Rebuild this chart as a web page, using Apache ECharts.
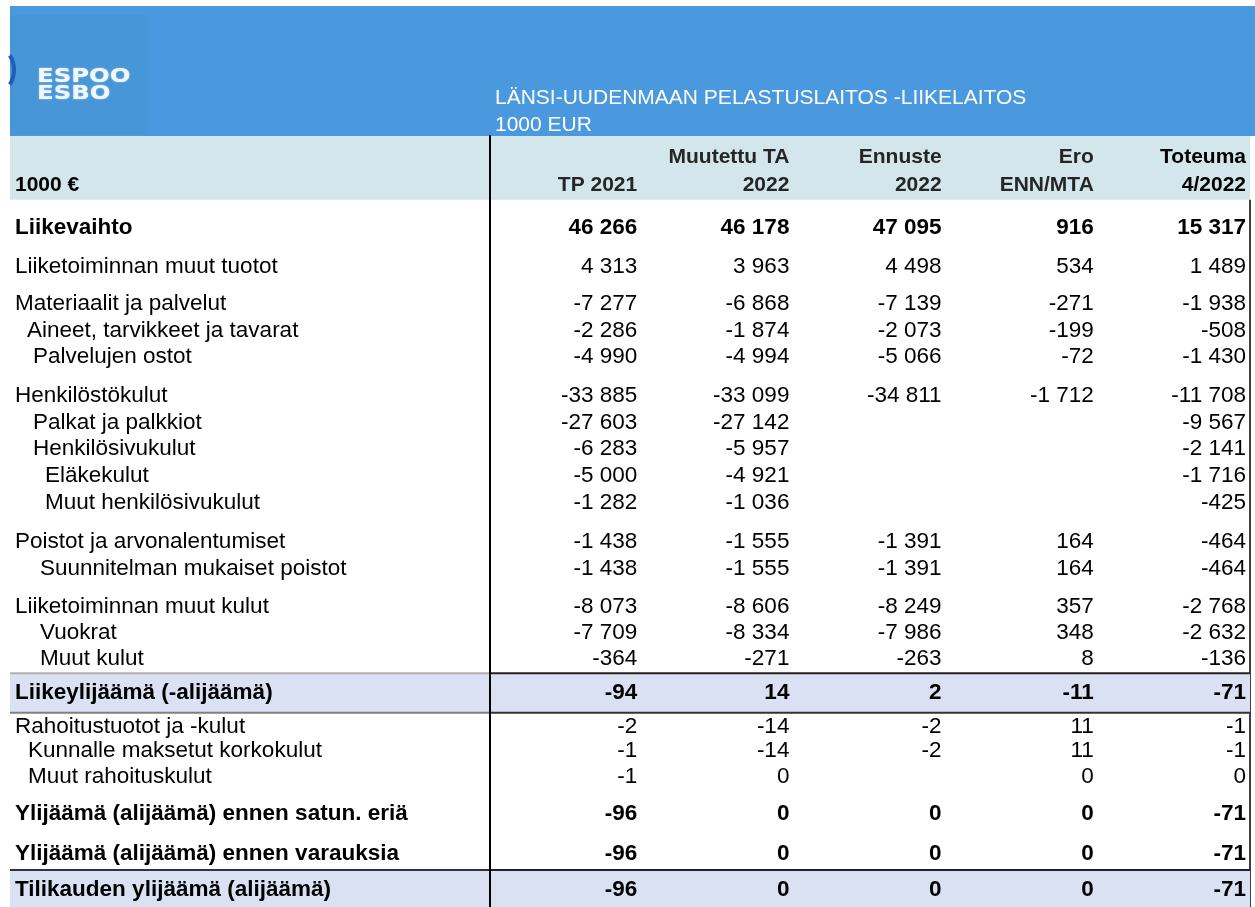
<!DOCTYPE html>
<html>
<head>
<meta charset="utf-8">
<title>Länsi-Uudenmaan pelastuslaitos -liikelaitos</title>
<script src="https://cdn.jsdelivr.net/npm/echarts@6/dist/echarts.min.js"></script>
<style>
html, body { margin: 0; padding: 0; background: #fff; }
#chart { width: 1255px; height: 907px; }
</style>
</head>
<body>
<div id="chart"></div>
<script>
// rivit
const rowLabels = [
  'Liikevaihto',
  'Liiketoiminnan muut tuotot',
  'Materiaalit ja palvelut',
  'Aineet, tarvikkeet ja tavarat',
  'Palvelujen ostot',
  'Henkilöstökulut',
  'Palkat ja palkkiot',
  'Henkilösivukulut',
  'Eläkekulut',
  'Muut henkilösivukulut',
  'Poistot ja arvonalentumiset',
  'Suunnitelman mukaiset poistot',
  'Liiketoiminnan muut kulut',
  'Vuokrat',
  'Muut kulut',
  'Liikeylijäämä (-alijäämä)',
  'Rahoitustuotot ja -kulut',
  'Kunnalle maksetut korkokulut',
  'Muut rahoituskulut',
  'Ylijäämä (alijäämä) ennen satun. eriä',
  'Ylijäämä (alijäämä) ennen varauksia',
  'Tilikauden ylijäämä (alijäämä)'
]

// sarakkeet
const tp2021 = [46266, 4313, -7277, -2286, -4990, -33885, -27603, -6283, -5000, -1282, -1438, -1438, -8073, -7709, -364, -94, -2, -1, -1, -96, -96, -96]
const mta2022 = [46178, 3963, -6868, -1874, -4994, -33099, -27142, -5957, -4921, -1036, -1555, -1555, -8606, -8334, -271, 14, -14, -14, 0, 0, 0, 0]
const enn2022 = [47095, 4498, -7139, -2073, -5066, -34811, null, null, null, null, -1391, -1391, -8249, -7986, -263, 2, -2, -2, null, 0, 0, 0]
const eroEnnMta = [916, 534, -271, -199, -72, -1712, null, null, null, null, 164, 164, 357, 348, 8, -11, 11, 11, 0, 0, 0, 0]
const tot2022 = [15317, 1489, -1938, -508, -1430, -11708, -9567, -2141, -1716, -425, -464, -464, -2768, -2632, -136, -71, -1, -1, 0, -71, -71, -71]

const colHeadTop = ['', 'Muutettu TA', 'Ennuste', 'Ero', 'Toteuma']
const colHeadBottom = ['TP 2021', '2022', '2022', 'ENN/MTA', '4/2022']
const columns = [tp2021, mta2022, enn2022, eroEnnMta, tot2022]

// asettelu (rivien välit riviyksiköinä, sisennys px)
const headHeight = 2.4
const rowStep = [1.05, 1.46, 1.4, 1, 1, 1.47, 1, 1, 1, 1, 1.47, 1.02, 1.43, 1, 0.96, 1.29, 1.26, 0.92, 0.97, 1.4, 1.5, 1.35]
const rowIndent = [0, 0, 0, 12, 18, 0, 18, 18, 30, 30, 0, 25, 0, 25, 25, 0, 0, 13, 13, 0, 0, 0]
const boldRows = [0, 15, 19, 20, 21]
const bandRows = [15, 21]

let acc = headHeight
const rowPos = rowStep.map(s => (acc += s))

const FONT = '"Liberation Sans", Arial, sans-serif'

function fmt(n) {
  if (n === null || n === undefined) return ''
  const s = Math.abs(n).toString().replace(/\B(?=(\d{3})+(?!\d))/g, ' ')
  return (n < 0 ? '-' : '') + s
}

const myChart = echarts.init(document.getElementById('chart'))

const option = {
  backgroundColor: '#ffffff',
  animation: false,
  title: {
    text: 'LÄNSI-UUDENMAAN PELASTUSLAITOS -LIIKELAITOS',
    subtext: '1000 EUR',
    left: 495,
    top: 88,
    padding: 0,
    itemGap: 6,
    textStyle: { color: '#ffffff', fontWeight: 'normal', fontSize: 21, fontFamily: FONT },
    subtextStyle: { color: '#ffffff', fontSize: 21, fontFamily: FONT }
  },
  graphic: [
    { type: 'rect', z: -1, shape: { x: 10, y: 6, width: 1245, height: 130 }, style: { fill: '#4a98de' } },
    { type: 'rect', z: -1, shape: { x: 10, y: 15, width: 138, height: 120 }, style: { fill: '#4796d8' } },
    { type: 'arc', z: 0, shape: { cx: -14, cy: 70, r: 28, startAngle: -0.55, endAngle: 0.55 }, style: { stroke: '#1f5ebd', lineWidth: 4, fill: null } },
    {
      type: 'text', z: 0, x: 37, y: 68, scaleX: 1.22,
      style: {
        text: 'ESPOO\nESBO', fill: '#f2f7fc', fontSize: 20, fontWeight: 'bold',
        fontFamily: '"DejaVu Sans", sans-serif', lineHeight: 17,
        textShadowColor: 'rgba(255,255,255,0.6)', textShadowBlur: 2
      }
    }
  ],
  grid: { left: 485, right: 9, top: 136, bottom: 0 },
  xAxis: { type: 'value', min: 0, max: 5, show: false },
  yAxis: {
    type: 'value',
    inverse: true,
    min: 0,
    max: 29,
    offset: -5,
    z: 10,
    axisLine: { show: true, lineStyle: { color: '#000', width: 2 } },
    axisTick: { show: false },
    axisLabel: { show: false },
    splitLine: { show: false }
  },
  series: [
    {
      // otsikkorivi
      type: 'custom',
      z: 1,
      clip: false,
      data: [0],
      renderItem: (params, api) => {
        const p0 = api.coord([0, 0])
        const p5 = api.coord([5, 0])
        const yEnd = api.coord([0, headHeight])[1]
        const yBottom = api.coord([0, 29])[1]
        const y1 = api.coord([0, 0.79])[1]
        const y2 = api.coord([0, 1.84])[1]
        const children = [
          { type: 'rect', shape: { x: p0[0] - 475, y: p0[1], width: p5[0] + 4 - (p0[0] - 475), height: yEnd - p0[1] }, style: { fill: '#d2e6ec' } },
          { type: 'line', shape: { x1: p5[0] + 4, y1: yEnd, x2: p5[0] + 4, y2: yBottom }, style: { stroke: '#000', lineWidth: 1.5 } },
          { type: 'text', style: { text: '1000 €', x: p0[0] - 470, y: y2, align: 'left', verticalAlign: 'middle', fontSize: 21, fontWeight: 'bold', fontFamily: FONT, fill: '#000' } }
        ]
        for (let c = 0; c < 5; c++) {
          const x = api.coord([c + 1, 0])[0]
          const col = c === 4 ? '#000' : '#262626'
          children.push({ type: 'text', style: { text: colHeadTop[c], x: x, y: y1, align: 'right', verticalAlign: 'middle', fontSize: 21, fontWeight: 'bold', fontFamily: FONT, fill: col } })
          children.push({ type: 'text', style: { text: colHeadBottom[c], x: x, y: y2, align: 'right', verticalAlign: 'middle', fontSize: 21, fontWeight: 'bold', fontFamily: FONT, fill: col } })
        }
        return { type: 'group', children }
      }
    },
    {
      // tulosrivit
      type: 'custom',
      z: 1,
      clip: false,
      data: rowLabels.map((_, i) => [0, rowPos[i]]),
      renderItem: (params, api) => {
        const i = params.dataIndex
        const pos = rowPos[i]
        const p0 = api.coord([0, pos])
        const p5 = api.coord([5, pos])
        const bold = boldRows.includes(i)
        const left = p0[0] - 475
        const right = p5[0] + 4
        const mid = p0[0] + 5
        const children = []
        const b = bandRows.indexOf(i)
        if (b >= 0) {
          const yt = api.coord([0, pos - 0.74])[1]
          const yb = Math.min(api.coord([0, pos + 0.74])[1], api.coord([0, 29])[1])
          children.push({ type: 'rect', shape: { x: left, y: yt, width: right - left, height: yb - yt }, style: { fill: '#dae1f3' } })
          children.push({ type: 'line', shape: { x1: left, y1: yt, x2: mid, y2: yt }, style: { stroke: b === 0 ? '#b0b0b0' : '#333', lineWidth: 2 } })
          children.push({ type: 'line', shape: { x1: mid, y1: yt, x2: right, y2: yt }, style: { stroke: '#222', lineWidth: 2 } })
          if (b === 0) {
            children.push({ type: 'line', shape: { x1: left, y1: yb, x2: mid, y2: yb }, style: { stroke: '#808080', lineWidth: 2 } })
            children.push({ type: 'line', shape: { x1: mid, y1: yb, x2: right, y2: yb }, style: { stroke: '#333', lineWidth: 2 } })
          }
        }
        children.push({
          type: 'text',
          style: { text: rowLabels[i], x: p0[0] - 470 + rowIndent[i], y: p0[1], align: 'left', verticalAlign: 'middle', fontSize: 22.5, fontWeight: bold ? 'bold' : 'normal', fontFamily: FONT, fill: '#000' }
        })
        for (let c = 0; c < 5; c++) {
          const v = columns[c][i]
          if (v === null) continue
          const pc = api.coord([c + 1, pos])
          children.push({
            type: 'text',
            style: { text: fmt(v), x: pc[0], y: pc[1], align: 'right', verticalAlign: 'middle', fontSize: 22.5, fontWeight: bold ? 'bold' : 'normal', fontFamily: FONT, fill: '#000' }
          })
        }
        return { type: 'group', children }
      }
    }
  ]
}

myChart.setOption(option)
</script>
</body>
</html>
